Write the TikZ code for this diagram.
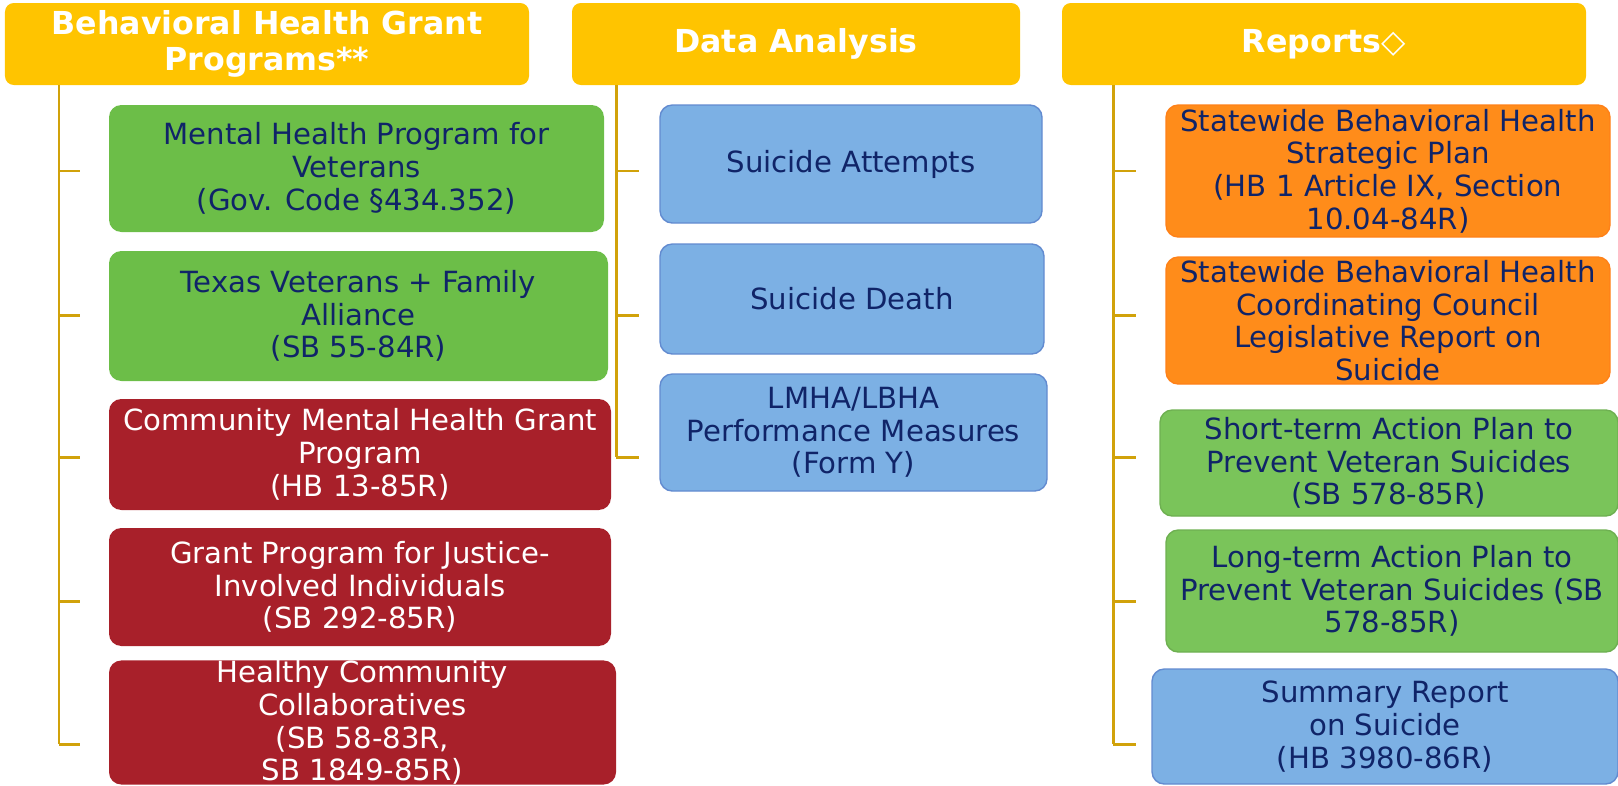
\documentclass[tikz,border=0pt]{standalone}
\usepackage{fontspec}
\setmainfont{DejaVu Sans}
\usepackage{tikz}
\usetikzlibrary{positioning}

\definecolor{hdyellow}{RGB}{255,196,0}
\definecolor{leafgreen}{RGB}{108,190,72}
\definecolor{lightgreen}{RGB}{122,196,90}
\definecolor{grantred}{RGB}{168,32,42}
\definecolor{skyblue}{RGB}{124,176,228}
\definecolor{deeporange}{RGB}{255,140,26}
\definecolor{navytext}{RGB}{16,36,104}
\definecolor{stemgold}{RGB}{209,162,10}

\begin{document}
\begin{tikzpicture}[y=-1cm,
    header/.style={fill=hdyellow, rounded corners=5pt, align=center, text=white,
        font=\fontsize{18}{20.5}\selectfont\bfseries, inner sep=0pt},
    item/.style={rounded corners=7pt, align=center, text=navytext,
        font=\fontsize{16.6}{18.6}\selectfont, inner sep=0pt},
    greenbox/.style={item, fill=leafgreen},
    redbox/.style={item, fill=grantred, text=white},
    bluebox/.style={item, fill=skyblue, draw=skyblue!88!blue!90!black, line width=0.8pt},
    orangebox/.style={item, fill=deeporange, draw=deeporange!92!red, line width=0.8pt},
    lgreenbox/.style={item, fill=lightgreen, draw=lightgreen!90!black, line width=0.8pt},
    stem/.style={draw=stemgold, line width=1.7pt}]

\useasboundingbox (0,0) rectangle (32.36,15.70);

% Column headers
\node[header, minimum width=10.48cm, minimum height=1.64cm] (hdgrant) at (5.34,0.88)
    {Behavioral Health Grant\\Programs**};
\node[header, minimum width=8.96cm, minimum height=1.64cm] (hddata) at (15.92,0.88)
    {Data Analysis};
\node[header, minimum width=10.48cm, minimum height=1.64cm] (hdreport) at (26.48,0.88)
    {Reports◇};

% Grant programs
\node[greenbox, minimum width=9.90cm, minimum height=2.54cm] (vetprog) at (7.13,3.37)
    {Mental Health Program for\\Veterans\\(Gov. Code §434.352)};
\node[greenbox, minimum width=9.98cm, minimum height=2.60cm] (alliance) at (7.17,6.32)
    {Texas Veterans + Family\\Alliance\\(SB 55-84R)};
\node[redbox, minimum width=10.04cm, minimum height=2.22cm] (community) at (7.20,9.09)
    {Community Mental Health Grant\\Program\\(HB 13-85R)};
\node[redbox, minimum width=10.04cm, minimum height=2.36cm] (justice) at (7.20,11.74)
    {Grant Program for Justice-\\Involved Individuals\\(SB 292-85R)};
\node[redbox, minimum width=10.14cm, minimum height=2.26cm] (healthy) at (7.25,14.45)
    {Healthy Community\\Collaboratives\\(SB 58-83R,\\SB 1849-85R)};

% Data analysis
\node[bluebox, minimum width=7.64cm, minimum height=2.36cm] (attempts) at (17.02,3.28)
    {Suicide Attempts};
\node[bluebox, minimum width=7.68cm, minimum height=2.20cm] (death) at (17.04,5.98)
    {Suicide Death};
\node[bluebox, minimum width=7.74cm, minimum height=2.34cm] (measures) at (17.07,8.65)
    {LMHA/LBHA\\Performance Measures\\(Form Y)};

% Reports
\node[orangebox, minimum width=8.88cm, minimum height=2.64cm] (stratplan) at (27.76,3.42)
    {Statewide Behavioral Health\\Strategic Plan\\(HB 1 Article IX, Section\\10.04-84R)};
\node[orangebox, minimum width=8.88cm, minimum height=2.54cm] (council) at (27.76,6.41)
    {Statewide Behavioral Health\\Coordinating Council\\Legislative Report on\\Suicide};
\node[lgreenbox, minimum width=9.16cm, minimum height=2.12cm] (shortplan) at (27.78,9.26)
    {Short-term Action Plan to\\Prevent Veteran Suicides\\(SB 578-85R)};
\node[lgreenbox, minimum width=9.04cm, minimum height=2.44cm] (longplan) at (27.84,11.82)
    {Long-term Action Plan to\\Prevent Veteran Suicides (SB\\578-85R)};
\node[bluebox, minimum width=9.32cm, minimum height=2.30cm] (summary) at (27.70,14.53)
    {Summary Report\\on Suicide\\(HB 3980-86R)};

% Stems and ticks
\foreach \y [count=\i] in {3.42,6.30,9.14,12.02,14.88}
{
    \coordinate (ga\i) at (1.18,\y);
    \coordinate (gb\i) at (1.60,\y);
    \draw[stem] (ga\i) -- (gb\i);
    \coordinate (ra\i) at (22.26,\y);
    \coordinate (rb\i) at (22.72,\y);
    \draw[stem] (ra\i) -- (rb\i);
}
\foreach \y [count=\i] in {3.42,6.30,9.14}
{
    \coordinate (da\i) at (12.32,\y);
    \coordinate (db\i) at (12.78,\y);
    \draw[stem] (da\i) -- (db\i);
}
\draw[stem] (hdgrant.south -| ga1) -- (ga5);
\draw[stem] (hddata.south -| da1) -- (da3);
\draw[stem] (hdreport.south -| ra1) -- (ra5);

\end{tikzpicture}
\end{document}
